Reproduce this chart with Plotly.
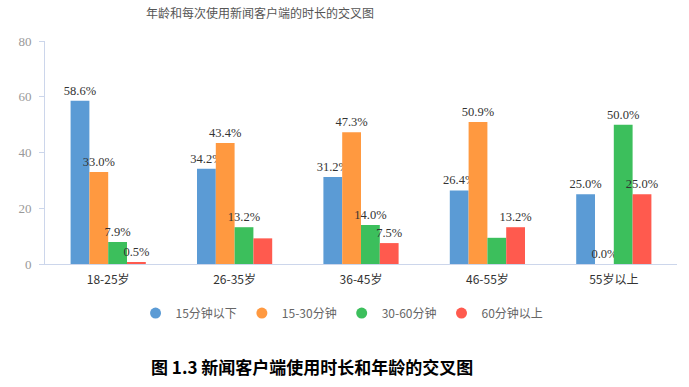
import plotly.graph_objects as go

categories = ["18-25岁", "26-35岁", "36-45岁", "46-55岁", "55岁以上"]
series_names = ["15分钟以下", "15-30分钟", "30-60分钟", "60分钟以上"]
v_under15 = [58.6, 34.2, 31.2, 26.4, 25.0]
v_15_30 = [33.0, 43.4, 47.3, 50.9, 0.0]
v_30_60 = [7.9, 13.2, 14.0, 9.4, 50.0]
v_over60 = [0.5, 9.2, 7.5, 13.2, 25.0]
t_under15 = ["58.6%", "34.2%", "31.2%", "26.4%", "25.0%"]
t_15_30 = ["33.0%", "43.4%", "47.3%", "50.9%", "0.0%"]
t_30_60 = ["7.9%", "13.2%", "14.0%", "", "50.0%"]
t_over60 = ["0.5%", "", "7.5%", "13.2%", "25.0%"]
y_ticks = [0, 20, 40, 60, 80]
colors = ["#5b9bd5", "#ff9940", "#3cbf5c", "#ff5a4e"]

values = [v_under15, v_15_30, v_30_60, v_over60]
texts = [t_under15, t_15_30, t_30_60, t_over60]

fig = go.Figure()
for name, vals, txt, col in zip(series_names, values, texts, colors):
    fig.add_trace(go.Bar(
        x=categories, y=vals, name=name, text=txt,
        textposition="outside", constraintext="none", cliponaxis=False,
        textfont=dict(family="Liberation Serif", size=12.5, color="#333333"),
        marker=dict(color=col, line=dict(width=0)),
        showlegend=False, hoverinfo="skip",
    ))
for name, col in zip(series_names, colors):
    fig.add_trace(go.Scatter(
        x=[None], y=[None], mode="markers", name=name,
        marker=dict(symbol="circle", size=11, color=col),
    ))

fig.update_layout(
    width=689, height=387,
    margin=dict(l=45, r=12, t=41, b=123),
    paper_bgcolor="white", plot_bgcolor="white",
    barmode="group", bargap=0.405, bargroupgap=0,
    title=dict(text="年龄和每次使用新闻客户端的时长的交叉图",
               font=dict(family="Noto Sans CJK SC", size=12, color="#555555"),
               x=260/689, xanchor="center", y=1-14/387, yanchor="middle"),
    xaxis=dict(showline=True, linecolor="#ccd6eb", linewidth=1, ticks="",
               showgrid=False, range=[-0.5, 4.5], ticklabelstandoff=5,
               tickfont=dict(family="Noto Sans CJK SC", size=12, color="#333333")),
    yaxis=dict(range=[0, 80], tickvals=y_ticks, showgrid=False, zeroline=False,
               showline=True, linecolor="#ccd6eb", linewidth=1,
               ticks="outside", ticklen=5, tickcolor="#ccd6eb", ticklabelstandoff=5,
               tickfont=dict(family="Liberation Serif", size=13, color="#999999")),
    legend=dict(orientation="h", x=0.47, xanchor="center", y=-0.22, yanchor="middle",
                font=dict(family="Noto Sans CJK SC", size=12, color="#666666"),
                itemwidth=30, traceorder="normal"),
    annotations=[dict(text="<b>图 1.3 新闻客户端使用时长和年龄的交叉图</b>",
                      xref="paper", yref="paper", x=(312-45)/632, y=-(366-264)/223,
                      xanchor="center", yanchor="middle", showarrow=False,
                      font=dict(family="Noto Sans CJK SC", size=17, color="#000000"))],
)

fig.write_html("out.html", config={"displayModeBar": False},
               post_script="document.body.style.margin='0';")
